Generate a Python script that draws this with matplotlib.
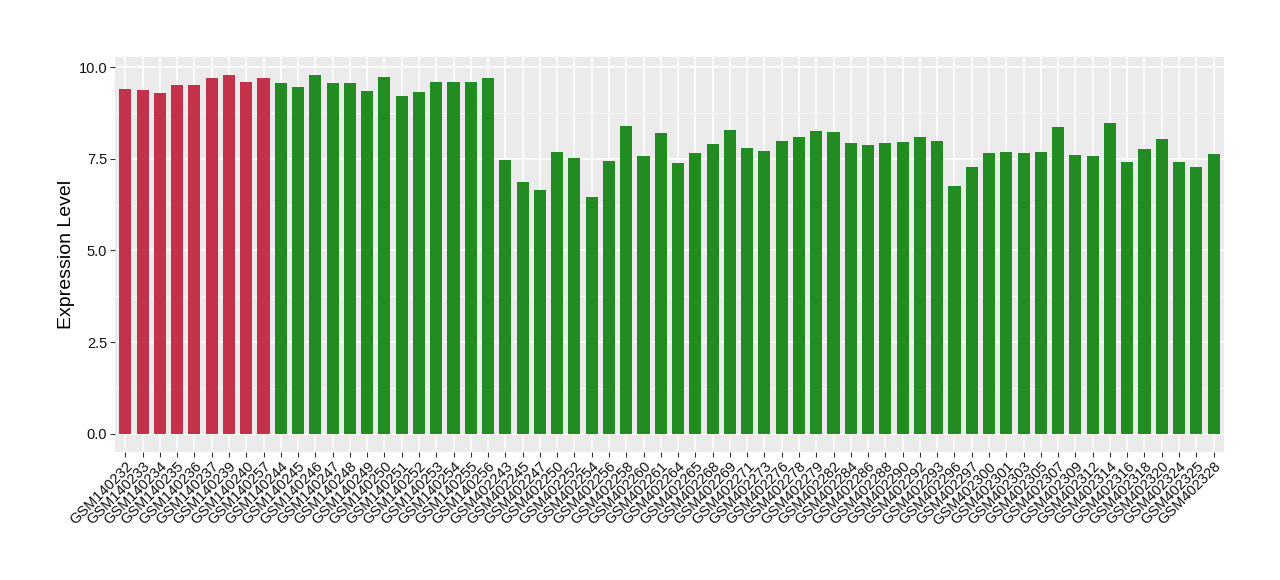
import numpy as np
import matplotlib
matplotlib.use("Agg")
import matplotlib.pyplot as plt
from matplotlib.ticker import MultipleLocator

# Donnees
red_samples = ["GSM140232", "GSM140233", "GSM140234", "GSM140235", "GSM140236",
               "GSM140237", "GSM140239", "GSM140240", "GSM140257"]
red_values = [9.41, 9.38, 9.30, 9.52, 9.52, 9.71, 9.79, 9.60, 9.71]

green_samples = ["GSM140244", "GSM140245", "GSM140246", "GSM140247", "GSM140248",
                 "GSM140249", "GSM140250", "GSM140251", "GSM140252", "GSM140253",
                 "GSM140254", "GSM140255", "GSM140256",
                 "GSM402243", "GSM402245", "GSM402247", "GSM402250", "GSM402252",
                 "GSM402254", "GSM402256", "GSM402258", "GSM402260", "GSM402261",
                 "GSM402264", "GSM402265", "GSM402268", "GSM402269", "GSM402271",
                 "GSM402273", "GSM402276", "GSM402278", "GSM402279", "GSM402282",
                 "GSM402284", "GSM402286", "GSM402288", "GSM402290", "GSM402292",
                 "GSM402293", "GSM402296", "GSM402297", "GSM402300", "GSM402301",
                 "GSM402303", "GSM402305", "GSM402307", "GSM402309", "GSM402312",
                 "GSM402314", "GSM402316", "GSM402318", "GSM402320", "GSM402324",
                 "GSM402325", "GSM402328"]
green_values = [9.57, 9.46, 9.79, 9.57, 9.57, 9.35, 9.74, 9.22, 9.33, 9.60,
                9.60, 9.60, 9.71,
                7.47, 6.87, 6.65, 7.69, 7.53, 6.46, 7.45, 8.40, 7.58, 8.21,
                7.39, 7.66, 7.91, 8.29, 7.80, 7.72, 7.99, 8.10, 8.26, 8.24,
                7.94, 7.88, 7.94, 7.96, 8.10, 7.99, 6.76, 7.28, 7.66, 7.69,
                7.66, 7.69, 8.37, 7.61, 7.58, 8.48, 7.42, 7.77, 8.05, 7.42,
                7.28, 7.64]

red_color = "#C3314A"
green_color = "#228B22"

samples = red_samples + green_samples
values = red_values + green_values
colors = [red_color] * len(red_samples) + [green_color] * len(green_samples)
x = np.arange(len(samples))

plt.rcParams['font.family'] = ['Liberation Sans', 'DejaVu Sans']

fig = plt.figure(figsize=(12.8, 5.8), dpi=100)
ax = fig.add_axes([0.0898, 0.221, 0.8664, 0.681])
ax.set_facecolor("#EBEBEB")

ax.bar(x, values, width=0.7, color=colors, zorder=3)

# Axes et grille facon ggplot
ymax = max(values)
ax.set_ylim(-0.05 * ymax, ymax * 1.05)
ax.set_xlim(-0.6, len(samples) - 1 + 0.6)
ax.yaxis.set_minor_locator(MultipleLocator(1.25))
ax.set_yticks([0, 2.5, 5, 7.5, 10])
ax.set_yticklabels(["0.0", "2.5", "5.0", "7.5", "10.0"])
ax.set_xticks(x)
ax.set_xticklabels(samples, rotation=45, ha="right", va="top",
                   rotation_mode="anchor")

ax.grid(which="major", color="white", linewidth=1.1, zorder=0)
ax.grid(which="minor", axis="y", color="white", linewidth=0.5, zorder=0)
ax.set_axisbelow(True)
for s in ax.spines.values():
    s.set_visible(False)

ax.tick_params(axis="both", which="major", length=3.5, color="#333333",
               labelsize=10.5, labelcolor="#111111", width=0.8, pad=2)
ax.tick_params(axis="y", which="minor", length=0)

ax.set_ylabel("Expression Level", fontsize=14, labelpad=3)

fig.savefig("out.png", dpi=100)
